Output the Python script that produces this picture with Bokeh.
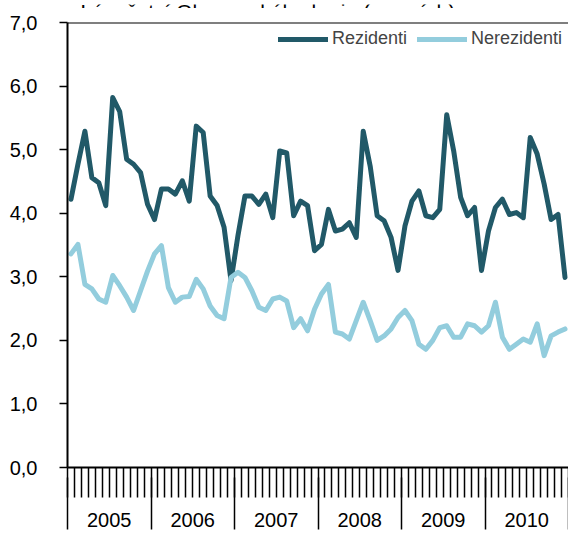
from bokeh.plotting import figure
from bokeh.layouts import column
from bokeh.models import (Range1d, LinearAxis, FixedTicker, Span, Legend, LegendItem)
from bokeh.core.properties import value
from bokeh.embed import file_html
from bokeh.resources import INLINE

years = ["2005", "2006", "2007", "2008", "2009", "2010"]
y_ticks = [0, 1, 2, 3, 4, 5, 6, 7]
title_text = "Lázeňství Olomouckého kraje (v nocích)"

rezidenti = [
    4.22, 4.77, 5.29, 4.56, 4.48, 4.12, 5.82, 5.60, 4.85, 4.77, 4.64, 4.14,
    3.90, 4.38, 4.38, 4.30, 4.51, 4.19, 5.37, 5.27, 4.27, 4.12, 3.78, 2.94,
    3.65, 4.27, 4.27, 4.14, 4.30, 3.93, 4.98, 4.95, 3.96, 4.19, 4.12, 3.41,
    3.51, 4.06, 3.72, 3.75, 3.85, 3.62, 5.29, 4.74, 3.96, 3.88, 3.62, 3.10,
    3.80, 4.19, 4.35, 3.96, 3.93, 4.06, 5.55, 4.98, 4.25, 3.96, 4.09, 3.10,
    3.72, 4.09, 4.22, 3.98, 4.01, 3.93, 5.19, 4.93, 4.46, 3.90, 3.98, 2.99,
]
nerezidenti = [
    3.36, 3.51, 2.88, 2.81, 2.65, 2.60, 3.02, 2.86, 2.68, 2.47, 2.78, 3.09,
    3.36, 3.49, 2.83, 2.60, 2.68, 2.69, 2.96, 2.81, 2.54, 2.39, 2.34, 2.99,
    3.07, 2.99, 2.78, 2.52, 2.47, 2.65, 2.68, 2.62, 2.20, 2.34, 2.15, 2.49,
    2.73, 2.88, 2.13, 2.10, 2.02, 2.31, 2.60, 2.31, 2.00, 2.07, 2.18, 2.36,
    2.47, 2.31, 1.94, 1.86, 2.00, 2.20, 2.23, 2.05, 2.05, 2.26, 2.23, 2.13,
    2.23, 2.60, 2.05, 1.86, 1.94, 2.02, 1.97, 2.26, 1.76, 2.07, 2.13, 2.18,
]

n = len(rezidenti)
xs = [i + 0.5 for i in range(n)]

FONT = "Liberation Sans"
DARK = "#215968"
LIGHT = "#93CDDD"
W = 568
LEFT = 67

# thin strip at the top that shows the (cut-off) chart title;
# its frame is aligned with the main plot's frame, so its range spans LEFT..W
head = figure(width=W, height=8, output_backend="svg", toolbar_location=None,
              x_range=Range1d(LEFT, W), y_range=Range1d(0, 8),
              x_axis_type=None, y_axis_type=None,
              min_border_left=LEFT, min_border_right=0, min_border_top=0, min_border_bottom=0)
head.outline_line_color = None
head.xgrid.visible = False
head.ygrid.visible = False
head.text(x=[80], y=[1], text=[title_text], text_font=value(FONT), text_font_size="21px",
          text_align="left", text_baseline="alphabetic", text_color="black")

p = figure(width=W, height=529, output_backend="svg", toolbar_location=None,
           x_range=Range1d(0, n), y_range=Range1d(0, 7),
           x_axis_type=None, y_axis_type=None,
           min_border_left=LEFT, min_border_right=0, min_border_top=14, min_border_bottom=70)
p.outline_line_color = None
p.background_fill_color = "white"
p.border_fill_color = "white"

# y axis
yax = LinearAxis(ticker=FixedTicker(ticks=y_ticks),
                 major_label_overrides={t: f"{t:.1f}".replace(".", ",") for t in y_ticks})
yax.axis_line_color = "black"
yax.axis_line_width = 2
yax.major_tick_out = 8
yax.major_tick_in = 0
yax.major_tick_line_width = 1.5
yax.minor_tick_line_color = None
yax.major_label_standoff = 22
yax.major_label_text_font = FONT
yax.major_label_text_font_size = "20px"
yax.major_label_text_color = "black"
p.add_layout(yax, "left")

# x axis: month ticks (minor) and year labels (major, centred in each year)
centers = [12 * k + 6 for k in range(len(years))]
bounds = [12 * k for k in range(len(years) + 1)]
xax = LinearAxis(ticker=FixedTicker(ticks=centers, minor_ticks=list(range(n + 1))),
                 major_label_overrides={c: y for c, y in zip(centers, years)})
xax.axis_line_color = "black"
xax.axis_line_width = 2
xax.major_tick_out = 0
xax.major_tick_in = 0
xax.minor_tick_out = 30
xax.minor_tick_in = 0
xax.minor_tick_line_color = "black"
xax.minor_tick_line_width = 1.5
xax.major_label_standoff = 15
xax.major_label_text_font = FONT
xax.major_label_text_font_size = "20px"
xax.major_label_text_color = "black"
p.add_layout(xax, "below")

# second axis below: year separators reaching up to the month ticks
sep = LinearAxis(ticker=FixedTicker(ticks=bounds))
sep.axis_line_color = None
sep.major_tick_in = 52
sep.major_tick_out = 0
sep.major_tick_line_color = "black"
sep.major_tick_line_width = 1.5
sep.minor_tick_line_color = None
sep.major_label_text_color = None
sep.major_label_text_font_size = "1px"
sep.major_label_standoff = 0
p.add_layout(sep, "below")

p.xgrid.visible = False
p.ygrid.ticker = FixedTicker(ticks=y_ticks)
p.ygrid.grid_line_color = "#BFBFBF"
p.ygrid.grid_line_width = 1.5
p.ygrid.grid_line_dash = "6 3"

p.add_layout(Span(location=7, dimension="width", line_color="black", line_width=2))

r1 = p.line(xs, rezidenti, line_color=DARK, line_width=5, line_join="round", line_cap="round")
r2 = p.line(xs, nerezidenti, line_color=LIGHT, line_width=5, line_join="round", line_cap="round")

legend = Legend(items=[LegendItem(label="Rezidenti", renderers=[r1]),
                       LegendItem(label="Nerezidenti", renderers=[r2])],
                orientation="horizontal", location="top_right")
legend.background_fill_alpha = 0
legend.border_line_color = None
legend.label_text_font = FONT
legend.label_text_font_size = "18px"
legend.glyph_width = 50
legend.glyph_height = 20
legend.label_standoff = 4
legend.spacing = 10
legend.padding = 4
legend.margin = 6
p.add_layout(legend)

layout = column(head, p, spacing=0)
open("out.html", "w").write(file_html(layout, INLINE))
